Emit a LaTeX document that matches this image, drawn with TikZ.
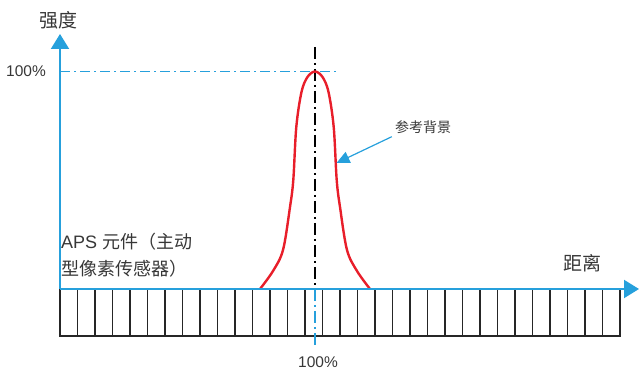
\documentclass[tikz,border=0pt]{standalone}
\usepackage{fontspec}
\setmainfont{Liberation Sans}
\newfontfamily\cjk{Noto Sans CJK SC}
\usetikzlibrary{arrows.meta}
\definecolor{axisblue}{RGB}{38,160,220}
\definecolor{peakred}{RGB}{232,30,42}
\definecolor{textgray}{RGB}{55,55,55}

\begin{document}
\begin{tikzpicture}[
    x = 1pt,
    y = 1pt,
    axis/.style = {
        draw = axisblue,
        line width = 2pt,
        -{Triangle[length = 15pt, width = 18pt]}
    },
    cell/.style = {
        draw = black!85,
        line width = 1.8pt
    },
    centerline/.style = {
        line width = 1.2pt,
        dash pattern = on 12pt off 4pt on 2pt off 4pt
    },
    guide/.style = {
        draw = axisblue,
        line width = 1pt,
        dash pattern = on 10pt off 4pt on 2pt off 4pt
    },
    peak/.style = {
        draw = peakred,
        line width = 2.4pt
    },
    pointer/.style = {
        draw = axisblue,
        line width = 1.2pt,
        -{Triangle[length = 13pt, width = 12pt]}
    },
    title/.style = {
        font = \cjk\fontsize{19}{22}\selectfont,
        text = textgray,
        inner sep = 2pt
    },
    note/.style = {
        font = \cjk\fontsize{14}{16}\selectfont,
        text = textgray,
        inner sep = 3pt
    },
    percent/.style = {
        font = \fontsize{15.5}{18}\selectfont,
        text = textgray,
        inner sep = 1pt
    }
]

    \useasboundingbox (0,0) rectangle (640,371);

    % Axes end points
    \coordinate (origin) at (60,82);
    \coordinate (ytip) at (60,337);
    \coordinate (xtip) at (639,82);

    % Pixel strip (APS elements)
    \draw [cell] (60,82) rectangle (620,35);
    \foreach \k in {1,...,31}
        \draw [cell] (60+17.5*\k,82) -- (60+17.5*\k,35);

    % Centre line and 100% level
    \coordinate (ctop) at (315,324);
    \coordinate (cbase) at (315,82);
    \coordinate (cbottom) at (315,24);
    \draw [centerline, black] (ctop) -- (cbase);
    \draw [centerline, axisblue] (cbase) -- (cbottom);
    \coordinate (level) at (60,299.5);
    \coordinate (levelend) at (337,299.5);
    \draw [guide] (level) -- (levelend);

    % Intensity peak
    \draw [peak] plot [smooth, tension = 0.55] coordinates {
        (260,82) (273,100) (283,121) (290,164) (293.3,191) (296.3,244)
        (301.5,279) (307.5,294) (315,299.5) (322.5,294) (328.5,279) (333.7,244)
        (336.7,191) (340,164) (347,121) (357,100) (370,82)};

    % Axes
    \draw [axis] (origin) -- (ytip);
    \draw [axis] (origin) -- (xtip);

    % Labels
    \node [title] (ylabel) at (58,351) {强度};
    \node [title] (xlabel) at (582,108) {距离};
    \node [percent, anchor = east] (toplevel) at (47,299.5) {100\%};
    \node [percent] (botlevel) at (318,9) {100\%};
    \node [title, anchor = north west, align = left, inner sep = 0pt,
        font = \fontsize{18}{27}\selectfont] (aps) at (61,138)
        {APS {\cjk 元件（主动}\\{\cjk 型像素传感器）}};
    \node [note] (refnote) at (423,244) {参考背景};

    % Pointer to the peak
    \coordinate (hit) at (336.5,208);
    \draw [pointer] (refnote.south west) -- (hit);

\end{tikzpicture}
\end{document}
